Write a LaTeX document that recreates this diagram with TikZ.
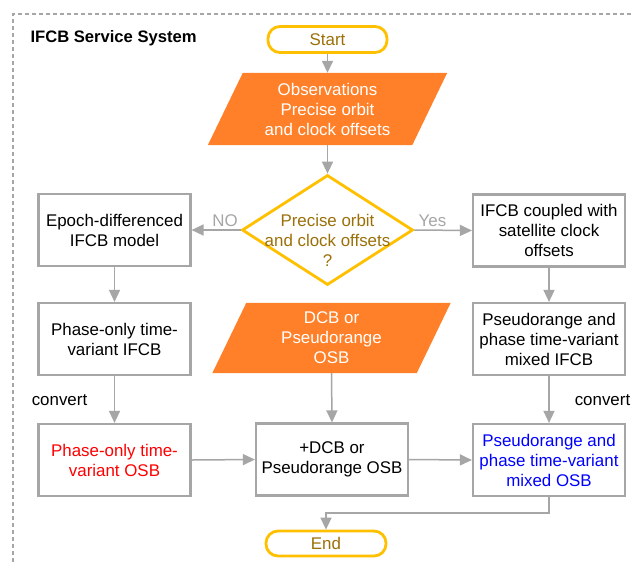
\documentclass[tikz,border=0pt]{standalone}
\usepackage{fontspec}
\setmainfont{Liberation Sans}
\usetikzlibrary{arrows.meta,shapes.geometric,backgrounds}
\definecolor{bgray}{HTML}{A6A6A6}
\definecolor{lgray}{HTML}{A6A6A6}
\definecolor{orng}{RGB}{255,128,40}
\definecolor{yel}{HTML}{FFC000}
\definecolor{gold}{RGB}{156,112,8}
\tikzset{
  every node/.style={font=\fontsize{16.9}{20}\selectfont, align=center},
  stepbox/.style={draw=bgray, line width=2.2pt, fill=white, minimum width=152pt, minimum height=72pt, inner sep=0pt},
  term/.style={draw=yel, line width=2.8pt, rounded corners=12pt, text=gold, inner sep=0pt},
  decide/.style={draw=yel, line width=2.8pt, diamond, minimum width=171pt, minimum height=110pt, inner sep=0pt},
  paratext/.style={text=white, minimum width=204pt, inner sep=0pt},
  arr/.style={draw=bgray, line width=1.5pt, -{Triangle[width=11pt,length=12pt]}},
  lbl/.style={text=lgray},
  border/.style={draw=bgray, line width=1.8pt, dash pattern=on 4pt off 3pt}
}
\begin{document}
\begin{tikzpicture}[x=1pt,y=-1pt]
\useasboundingbox (0,0) rectangle (631,563);
\draw[border] (631,14) -- (13,14) -- (13,563);
\node[anchor=west, font=\fontsize{16.6}{20}\selectfont\bfseries] (title) at (27,38.5) {IFCB Service System};

\node[term, minimum width=119pt, minimum height=26pt] (start) at (327.5,39.5) {Start};
\node[paratext, minimum height=72pt] (obs) at (327.5,109) {Observations\\Precise orbit\\and clock offsets};
\node[decide] (dec) at (327.5,230) {};
\node[text=gold] (dectext) at (327.5,240) {Precise orbit\\and clock offsets\\?};

\node[stepbox] (l1) at (114.5,230) {Epoch-differenced\\IFCB model};
\node[stepbox] (l2) at (114.5,339) {Phase-only time-\\variant IFCB};
\node[stepbox, text=red] (l3) at (114.5,460) {Phase-only time-\\variant OSB};

\node[stepbox] (r1) at (549,230.5) {IFCB coupled with\\satellite clock\\offsets};
\node[stepbox] (r2) at (549,339) {Pseudorange and\\phase time-variant\\mixed IFCB};
\node[stepbox, text=blue] (r3) at (549,460) {Pseudorange and\\phase time-variant\\mixed OSB};

\node[paratext, minimum height=70pt] (dcb) at (331.5,338) {DCB or\\Pseudorange\\OSB};
\node[stepbox] (mid) at (332,459.5) {+DCB or\\Pseudorange OSB};

\node[term, minimum width=120pt, minimum height=25pt] (end) at (326,543.5) {End};

\begin{scope}[on background layer]
\fill[white] (0,0) rectangle (631,563);
\fill[orng] ([xshift=-17.5pt]obs.south west) -- ([xshift=-17.5pt]obs.south east) -- ([xshift=17.5pt]obs.north east) -- ([xshift=17.5pt]obs.north west) -- cycle;
\fill[orng] ([xshift=-17pt]dcb.south west) -- ([xshift=-17pt]dcb.south east) -- ([xshift=17pt]dcb.north east) -- ([xshift=17pt]dcb.north west) -- cycle;
\end{scope}

\node[lbl] (no) at (225,221) {NO};
\node[lbl] (yes) at (432.5,221) {Yes};
\node (cvl) at (59.5,400) {convert};
\node (cvr) at (602.5,400) {convert};

\draw[arr] (start.south) -- (obs.north);
\draw[arr] (obs.south) -- (dec.north);
\draw[arr] (dec.west) -- (l1.east);
\draw[arr] (dec.east) -- (r1.west);
\draw[arr] (l1.south) -- (l2.north);
\draw[arr] (l2.south) -- (l3.north);
\draw[arr] (r1.south) -- (r2.north);
\draw[arr] (r2.south) -- (r3.north);
\draw[arr] (dcb.south) -- (mid.north);
\draw[arr] (l3.east) -- (mid.west);
\draw[arr] (mid.east) -- (r3.west);
\draw[arr] (r3.south) -- ++(0,16) -| (end.north);
\end{tikzpicture}
\end{document}
